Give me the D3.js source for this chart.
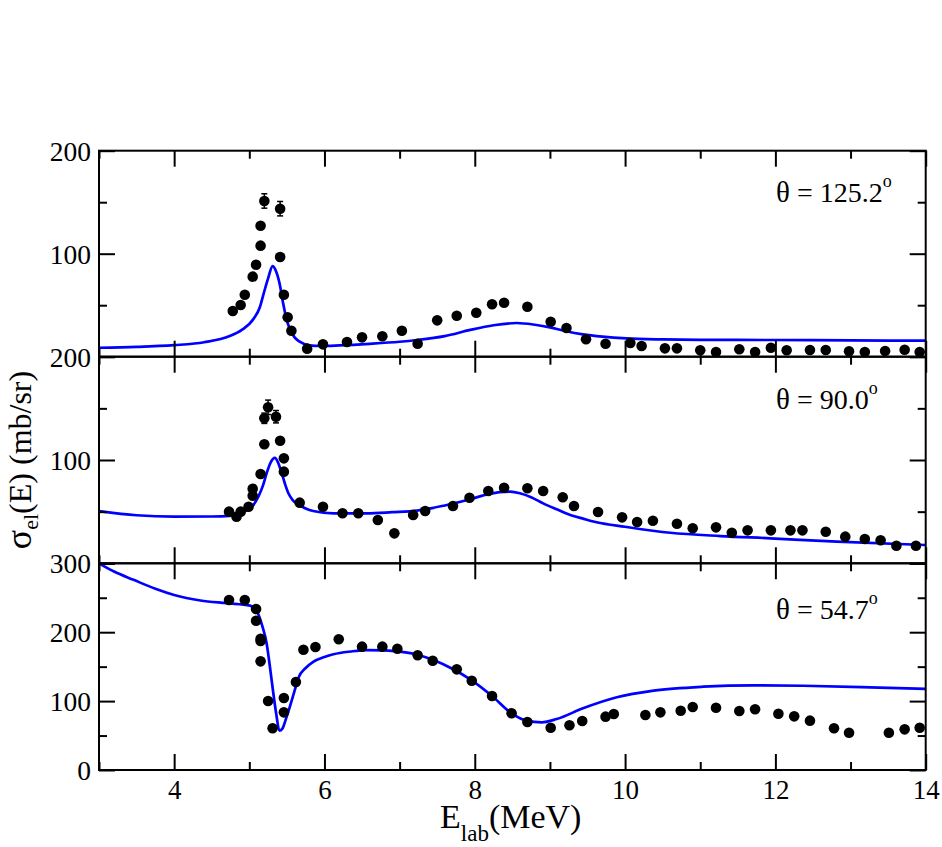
<!DOCTYPE html>
<html>
<head>
<meta charset="utf-8">
<script src="https://cdn.jsdelivr.net/npm/d3@7/dist/d3.min.js"></script>
<style>
  html, body { margin: 0; padding: 0; background: #fff; }
  svg { display: block; }
</style>
</head>
<body>
<svg id="chart" width="942" height="847"></svg>
<script>
// ---------------- DATA ----------------
const xTicksMajor = [4, 6, 8, 10, 12, 14];
const xTicksMinor = [3, 5, 7, 9, 11, 13];
const xTickLabels = ["4", "6", "8", "10", "12", "14"];

const panelLabels = ["125.2", "90.0", "54.7"];
const panelYMax = [200, 200, 300];
const panelYLabelTicks = [[100, 200], [100, 200], [0, 100, 200, 300]];
const panelYMajor = [[0, 100, 200], [0, 100, 200], [0, 100, 200, 300]];
const panelYMinor = [[50, 150], [50, 150], [50, 150, 250]];

// theta = 125.2 deg
const topE = [4.78,4.885,4.94,5.045,5.09,5.15,5.15,5.20,5.41,5.41,5.46,5.51,5.56,5.77,5.98,6.30,6.50,6.77,7.03,7.24,7.50,7.76,8.02,8.23,8.39,8.70,9.01,9.22,9.48,9.74,10.07,10.22,10.53,10.69,11.00,11.21,11.52,11.73,11.94,12.15,12.46,12.67,12.98,13.19,13.46,13.72,13.92];
const topSig = [44.4,50.2,60.2,77.7,89.3,107.8,127.2,151.2,143.7,96.8,60.2,38.3,25.2,7.8,12,14.3,18.8,19.8,25.2,12.6,35.3,39.8,42.7,50.9,52.4,48.5,34,27.9,16.9,12.6,13.3,10.4,8.1,8.1,6.2,4.6,7.2,4.6,8.7,6.2,6.5,6.5,5.2,4.6,5.5,6.8,4.6];
const topErrE = [5.20, 5.41];
const topErrSig = [151.2, 143.7];
const topErrD = [7, 7];
const topCurveE = [3.0,3.5,4.0,4.4,4.74,4.90,5.06,5.14,5.19,5.25,5.31,5.35,5.40,5.45,5.50,5.54,5.60,5.67,5.80,5.95,6.2,6.6,7.0,7.23,7.6,7.94,8.25,8.56,8.8,9.0,9.2,9.44,9.7,10.02,10.5,11.0,11.93,13.0,14.0];
const topCurveSig = [8.7,9.5,11.2,14,20,26,37,48,61,76,88,84,72,52,35,27,19,14.6,11,10.4,11,12.5,14.5,16.2,20,26,30.5,32.7,31,28.5,25,21.7,19.5,17.8,16.8,16.4,16.2,15.8,15.6];

// theta = 90.0 deg
const midE = [4.73,4.83,4.885,4.99,5.045,5.045,5.15,5.20,5.20,5.25,5.355,5.41,5.46,5.46,5.67,5.98,6.24,6.45,6.71,6.93,7.18,7.34,7.71,7.93,8.18,8.39,8.70,8.91,9.17,9.32,9.64,9.96,10.16,10.37,10.69,10.90,11.21,11.42,11.63,11.94,12.20,12.36,12.67,12.93,13.19,13.40,13.61,13.87];
const midSig = [50,45.1,50,54.8,65.4,72.2,86.4,115.2,140.4,151,141.9,118.7,101.6,88.7,58.7,54.8,48.4,48.4,41.9,29,46.8,50.6,55.5,63.5,70,73.2,72.6,70,63.9,55.5,49.7,44.5,40,41.2,38.3,33.9,34.8,29.6,31.9,31.9,31.9,31.9,30.6,25.8,23.5,22.3,17,17];
const midErrE = [5.20, 5.25, 5.355];
const midErrSig = [140.4, 151, 141.9];
const midErrD = [5, 7, 6];
const midCurveE = [3.0,3.5,4.0,4.5,4.74,4.97,5.05,5.12,5.18,5.23,5.28,5.34,5.38,5.42,5.47,5.52,5.58,5.65,5.75,5.85,6.12,6.56,6.9,7.23,7.6,7.94,8.18,8.47,8.60,8.75,8.91,9.1,9.27,9.45,9.62,10.0,10.6,11.27,11.93,12.82,14.0];
const midCurveSig = [50.6,46.5,45.1,45.3,46,51.6,56,64.5,75,87,97,102,98,90,78,67.8,61,57,53,50.6,48.4,48.4,49.5,51,56,62,67,69.3,67.8,64,58,52,46.8,43,39.7,35.4,29.6,26.4,24.2,20.9,17.7];

// theta = 54.7 deg
const botE = [4.73,4.94,5.09,5.09,5.15,5.15,5.15,5.25,5.31,5.46,5.46,5.62,5.72,5.88,6.19,6.50,6.77,6.97,7.24,7.44,7.76,7.96,8.23,8.49,8.70,9.01,9.26,9.43,9.74,9.85,10.27,10.47,10.74,10.90,11.21,11.52,11.73,12.04,12.25,12.46,12.78,12.98,13.51,13.72,13.92];
const botSig = [246.7,246.7,233.7,216.7,190.6,187.2,157.7,100.1,60.5,104.5,83.7,127.7,174.6,178.5,189.7,179,179,176,166.5,158.6,146.1,129.6,107.4,82.3,69.7,61.4,64.9,71.1,77.4,81.3,79.8,83.7,86.1,91.4,90.4,85.6,88.1,81.7,77.9,71.6,60.5,54.1,54.1,59,61.4];
const botErrE = [];
const botErrSig = [];
const botErrD = [];
const botCurveE = [3.0,3.2,3.46,3.75,4.0,4.35,4.70,5.01,5.08,5.12,5.17,5.23,5.28,5.32,5.36,5.40,5.44,5.49,5.54,5.60,5.65,5.75,5.85,6.0,6.12,6.35,6.56,6.8,7.0,7.25,7.45,7.7,7.94,8.23,8.49,8.69,8.89,9.09,9.44,9.89,10.38,11.04,11.71,12.37,13.26,14.0];
const botCurveSig = [300,288,276,263,254,246,242,238.5,233,226,210,184,145,111,80,57,60,75,92,114,133,148,157,164,168,172,174,173.5,171.7,167,159.6,147,131.6,107.4,82.3,71.6,69.2,74,89.5,105.5,115.1,120.9,122.9,122.3,120,117.6];

// ---------------- LAYOUT ----------------
const svg = d3.select("#chart");
const FONT = "'Liberation Serif', 'Times New Roman', serif";
const left = 99, right = 925.7;
const bounds = [[150.7, 356.7], [356.7, 563.3], [563.3, 770]];

const x = d3.scaleLinear().domain([3, 14]).range([left, right]);

const panels = [
  {E: topE, S: topSig, eE: topErrE, eS: topErrSig, eD: topErrD, cE: topCurveE, cS: topCurveSig},
  {E: midE, S: midSig, eE: midErrE, eS: midErrSig, eD: midErrD, cE: midCurveE, cS: midCurveSig},
  {E: botE, S: botSig, eE: botErrE, eS: botErrSig, eD: botErrD, cE: botCurveE, cS: botCurveSig}
];

function styleAxis(g, fs) {
  g.select(".domain").remove();
  g.selectAll(".tick line").attr("stroke", "#000").attr("stroke-width", 2);
  g.selectAll("text").attr("font-family", FONT).attr("font-size", fs).attr("fill", "#000");
  g.attr("font-family", null).attr("font-size", null);
}

panels.forEach((p, i) => {
  const [y0, y1] = bounds[i];
  const y = d3.scaleLinear().domain([0, panelYMax[i]]).range([y1, y0]);
  const g = svg.append("g");
  const h = y1 - y0;
  const w = right - left;

  // curve
  const line = d3.line().x(d => x(d[0])).y(d => y(d[1])).curve(d3.curveMonotoneX);
  g.append("path")
    .datum(p.cE.map((e, k) => [e, p.cS[k]]))
    .attr("d", line)
    .attr("fill", "none")
    .attr("stroke", "#0000ff")
    .attr("stroke-width", 2.7);

  // axes: bottom / top (x), left / right (y), inward ticks
  const bottomMaj = g.append("g").attr("transform", `translate(0,${y1})`)
    .call(d3.axisBottom(x).tickValues(xTicksMajor).tickSize(-16).tickSizeOuter(0)
      .tickPadding(9.5)
      .tickFormat((d, k) => i === 2 ? xTickLabels[k] : ""));
  styleAxis(bottomMaj, 27);
  const bottomMin = g.append("g").attr("transform", `translate(0,${y1})`)
    .call(d3.axisBottom(x).tickValues(xTicksMinor).tickSize(-8).tickSizeOuter(0).tickFormat(""));
  styleAxis(bottomMin, 27);
  const topMaj = g.append("g").attr("transform", `translate(0,${y0})`)
    .call(d3.axisTop(x).tickValues(xTicksMajor).tickSize(-16).tickSizeOuter(0).tickFormat(""));
  styleAxis(topMaj, 27);
  const topMin = g.append("g").attr("transform", `translate(0,${y0})`)
    .call(d3.axisTop(x).tickValues(xTicksMinor).tickSize(-8).tickSizeOuter(0).tickFormat(""));
  styleAxis(topMin, 27);

  const labelSet = panelYLabelTicks[i];
  const leftMaj = g.append("g").attr("transform", `translate(${left},0)`)
    .call(d3.axisLeft(y).tickValues(panelYMajor[i]).tickSize(-16).tickSizeOuter(0).tickPadding(8)
      .tickFormat(d => labelSet.includes(d) ? String(d) : ""));
  styleAxis(leftMaj, 27.5);
  leftMaj.selectAll("text").attr("dy", "0.34em");
  const leftMin = g.append("g").attr("transform", `translate(${left},0)`)
    .call(d3.axisLeft(y).tickValues(panelYMinor[i]).tickSize(-8).tickSizeOuter(0).tickFormat(""));
  styleAxis(leftMin, 27);
  const rightMaj = g.append("g").attr("transform", `translate(${right},0)`)
    .call(d3.axisRight(y).tickValues(panelYMajor[i]).tickSize(-16).tickSizeOuter(0).tickFormat(""));
  styleAxis(rightMaj, 27);
  const rightMin = g.append("g").attr("transform", `translate(${right},0)`)
    .call(d3.axisRight(y).tickValues(panelYMinor[i]).tickSize(-8).tickSizeOuter(0).tickFormat(""));
  styleAxis(rightMin, 27);

  // frame
  g.append("rect")
    .attr("x", left).attr("y", y0).attr("width", w).attr("height", h)
    .attr("fill", "none").attr("stroke", "#000").attr("stroke-width", 2);

  // error bars
  p.eE.forEach((e, k) => {
    const cx = x(e), ya = y(p.eS[k] + p.eD[k]), yb = y(p.eS[k] - p.eD[k]);
    g.append("line").attr("x1", cx).attr("x2", cx).attr("y1", ya).attr("y2", yb)
      .attr("stroke", "#000").attr("stroke-width", 1.5);
    [ya, yb].forEach(yy => g.append("line").attr("x1", cx - 3).attr("x2", cx + 3)
      .attr("y1", yy).attr("y2", yy).attr("stroke", "#000").attr("stroke-width", 1.5));
  });

  // data points
  g.selectAll("circle.pt")
    .data(p.E.map((e, k) => [e, p.S[k]]))
    .enter().append("circle")
    .attr("class", "pt")
    .attr("cx", d => x(d[0]))
    .attr("cy", d => y(d[1]))
    .attr("r", 5.3)
    .attr("fill", "#000");
});

// theta labels
const thetaY = [201.7, 409.3, 619.3];
panelLabels.forEach((t, i) => {
  const txt = svg.append("text")
    .attr("x", 776).attr("y", thetaY[i])
    .attr("font-family", FONT).attr("font-size", 28).attr("fill", "#000");
  txt.append("tspan").attr("font-size", 29).text("θ");
  txt.append("tspan").text(" = " + t);
  txt.append("tspan").attr("font-size", 18).attr("dy", -15).text("o");
});

// y-axis title
const yt = svg.append("text")
  .attr("transform", "translate(31,460) rotate(-90)")
  .attr("text-anchor", "middle")
  .attr("font-family", FONT).attr("font-size", 32).attr("fill", "#000");
yt.append("tspan").attr("font-size", 36).text("σ");
yt.append("tspan").attr("font-size", 22).attr("dy", 7).text("el");
yt.append("tspan").attr("dy", -7).text("(E) (mb/sr)");

// x-axis title
const xt = svg.append("text")
  .attr("x", 440).attr("y", 828)
  .attr("font-family", FONT).attr("font-size", 34).attr("fill", "#000");
xt.append("tspan").text("E");
xt.append("tspan").attr("font-size", 23).attr("dy", 13).text("lab");
xt.append("tspan").attr("dy", -13).text("(MeV)");
</script>
</body>
</html>
